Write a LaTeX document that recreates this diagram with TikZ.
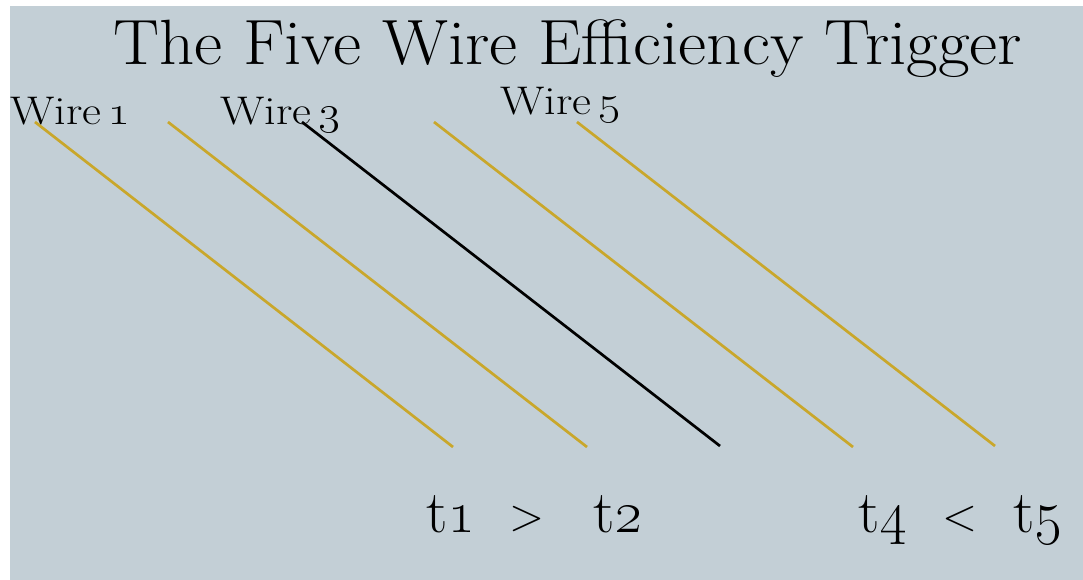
\documentclass[tikz,border=0pt]{standalone}
\usepackage{fix-cm}
\usepackage{graphicx}
\usepackage{tikz}
\definecolor{slide}{HTML}{C3CFD6}
\definecolor{wiregold}{HTML}{C9A72B}
\newcommand{\wirelabel}[1]{\scalebox{1.16}[1]{Wire\hspace{0.15em}\oldstylenums{#1}}}
\tikzset{
  wire/.style={line width=2.7pt, wiregold},
  hitwire/.style={line width=2.7pt, black},
  label/.style={anchor=base west, inner sep=0pt, font=\fontsize{40}{42}\selectfont},
  timelabel/.style={anchor=base, inner sep=0pt, font=\fontsize{60}{64}\selectfont},
  relation/.style={anchor=base, inner sep=0pt, font=\fontsize{46}{50}\selectfont},
}
\begin{document}
\begin{tikzpicture}[x=1pt, y=-1pt]
  % page and slide background
  \useasboundingbox (0,0) rectangle (1083,580);
  \fill[white] (0,0) rectangle (1083,580);
  \fill[slide] (10,6) rectangle (1083,580);

  % title
  \node[anchor=base west, inner sep=0pt, font=\fontsize{64}{68}\selectfont] (title) at (113,65)
    {\scalebox{1.077}[1]{The Five Wire Efficiency Trigger}};

  % wire labels
  \node[label] (w1) at (10,125) {\wirelabel{1}};
  \node[label] (w3) at (220,125) {\wirelabel{3}};
  \node[label] (w5) at (500,115) {\wirelabel{5}};

  % wire end points
  \coordinate (a1) at (35,122);  \coordinate (b1) at (453,447);
  \coordinate (a2) at (168,122); \coordinate (b2) at (587,447);
  \coordinate (a3) at (302,122); \coordinate (b3) at (720,446);
  \coordinate (a4) at (434,122); \coordinate (b4) at (853,447);
  \coordinate (a5) at (577,122); \coordinate (b5) at (995,446);

  % wires
  \draw[wire] (a1) -- (b1);
  \draw[wire] (a2) -- (b2);
  \draw[hitwire] (a3) -- (b3);
  \draw[wire] (a4) -- (b4);
  \draw[wire] (a5) -- (b5);

  % timing relations
  \node[timelabel] (t1) at (451,532) {t\oldstylenums{1}};
  \node[relation] (gt) at (527,530) {>};
  \node[timelabel] (t2) at (618,532) {t\oldstylenums{2}};
  \node[timelabel] (t4) at (883,532) {t\oldstylenums{4}};
  \node[relation] (lt) at (960,530) {<};
  \node[timelabel] (t5) at (1038,532) {t\oldstylenums{5}};
\end{tikzpicture}
\end{document}
